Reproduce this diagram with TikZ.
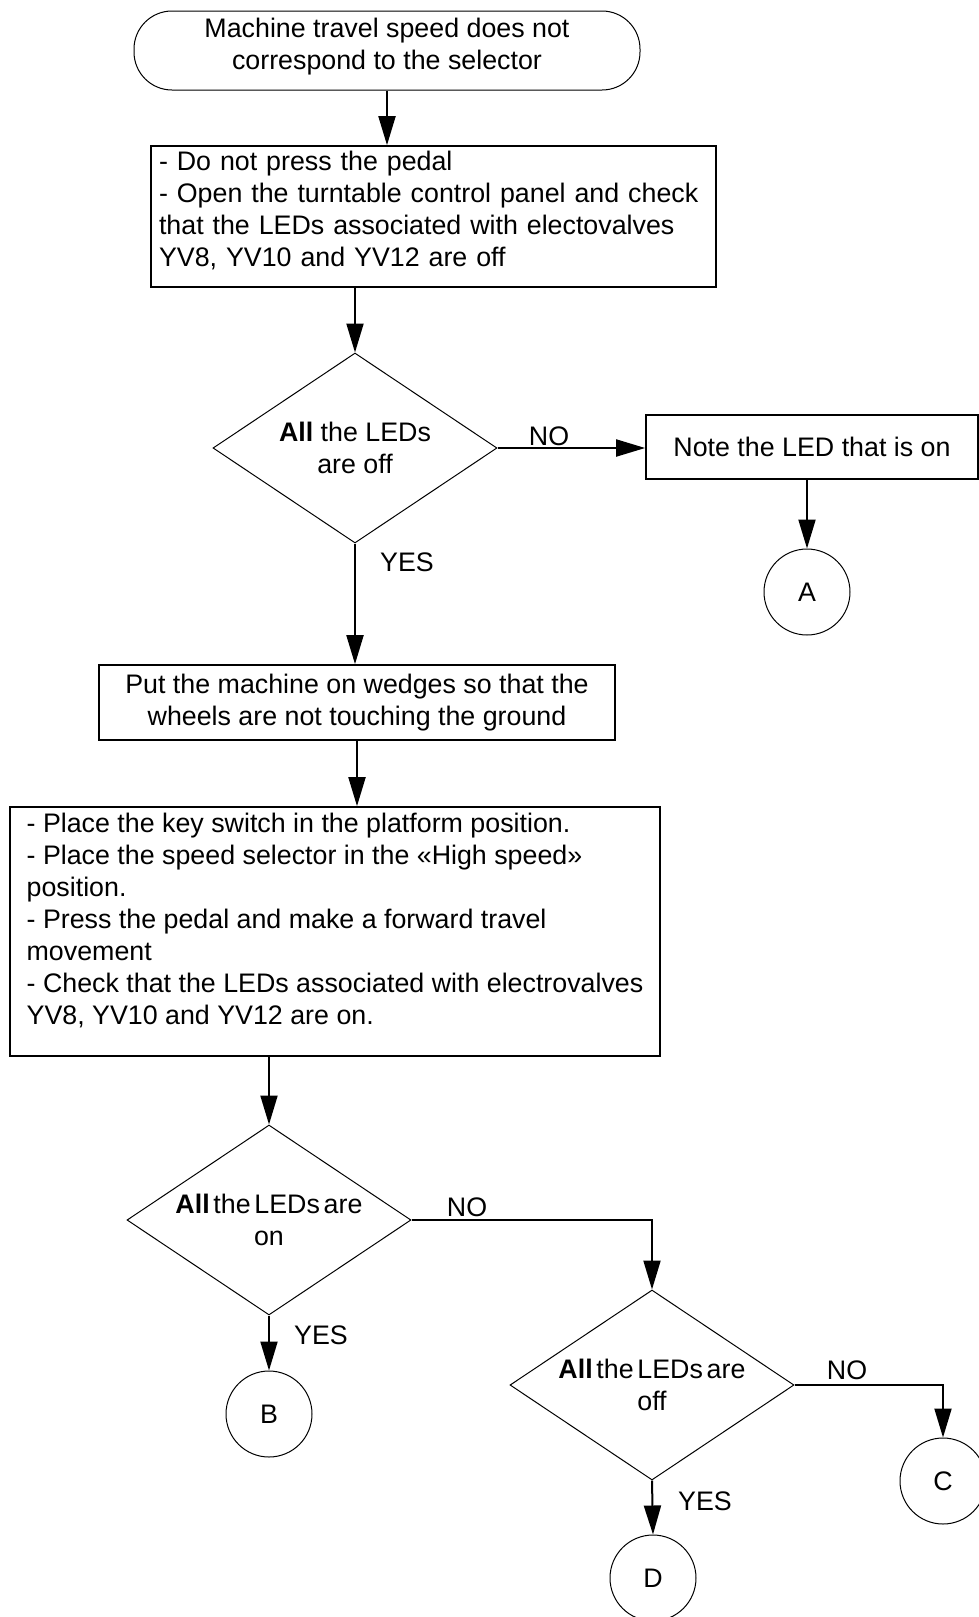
\documentclass[tikz,border=0pt]{standalone}
\usepackage{fontspec}
\setmainfont{Liberation Sans}
\usetikzlibrary{arrows.meta,shapes.geometric}

\begin{document}
\begin{tikzpicture}[
    x=0.5pt,y=-0.5pt,
    font=\fontsize{13.4}{16}\selectfont,
    terminal/.style={draw,line width=0.5pt,rounded corners=19pt,align=center,
        minimum width=253pt,minimum height=39.5pt,inner sep=0pt},
    box/.style={draw,line width=0.85pt,inner sep=0pt},
    decision/.style={diamond,draw,line width=0.5pt,inner sep=0pt,aspect=1.5,
        minimum width=142pt,minimum height=95pt,align=center},
    tight/.style={execute at begin node={\spaceskip=0.14em\relax}},
    connector/.style={circle,draw,line width=0.5pt,minimum size=43pt,inner sep=0pt},
    answer/.style={inner sep=0pt},
    arrow/.style={-{Triangle[length=14.5pt,width=8.5pt]},line width=1pt}
]
\useasboundingbox (0,0) rectangle (979,1617);

% start and first check
\node[terminal,text depth=6.3pt] (start) at (387,50.5)
    {Machine travel speed does not\\correspond to the selector};
\node[box,align=left,inner xsep=4pt,text width=274.5pt,text depth=55.8pt,
    minimum height=70.5pt] (nopedal) at (433.5,216.5)
    {- Do not press the pedal\\- Open the turntable control panel and check\\that the LEDs associated with electovalves\\YV8, YV10 and YV12 are off};
\node[decision] (alloff) at (355,448) {\textbf{All} the LEDs\\are off};
\node[box,minimum width=166pt,minimum height=32pt] (noteled) at (812,447)
    {Note the LED that is on};
\node[connector] (conA) at (807,592) {A};

% wedges and travel test
\node[box,align=center,minimum width=258pt,minimum height=37.5pt] (wedges) at (357,702.5)
    {Put the machine on wedges so that the\\wheels are not touching the ground};
\node[box,align=left,text depth=12.8pt,minimum width=325pt,minimum height=124.5pt]
    (travel) at (335,931.5)
    {- Place the key switch in the platform position.\\- Place the speed selector in the «High speed»\\position.\\- Press the pedal and make a forward travel\\movement\\- Check that the LEDs associated with electrovalves\\YV8, YV10 and YV12 are on.};
\node[decision,tight] (allon) at (269,1220) {\textbf{All} the LEDs are\\on};
\node[connector] (conB) at (269,1414) {B};
\node[decision,tight] (alloff2) at (652,1385) {\textbf{All} the LEDs are\\off};
\node[connector] (conC) at (943,1481) {C};
\node[connector] (conD) at (653,1578) {D};

% answers
\node[answer] (no1) at (549,436) {NO};
\node[answer] (yes1) at (407,562) {YES};
\node[answer] (no2) at (467,1207) {NO};
\node[answer] (yes2) at (321,1335) {YES};
\node[answer] (no3) at (847,1370) {NO};
\node[answer] (yes3) at (705,1501) {YES};

\draw[arrow] (start.south) -- (start.south |- nopedal.north);
\draw[arrow] (alloff.north |- nopedal.south) -- (alloff.north);
\draw[arrow] (alloff.east) -- (alloff.east -| noteled.west);
\draw[arrow] (conA.north |- noteled.south) -- (conA.north);
\draw[arrow] (alloff.south) -- (alloff.south |- wedges.north);
\draw[arrow] (wedges.south) -- (wedges.south |- travel.north);
\draw[arrow] (allon.north |- travel.south) -- (allon.north);
\draw[arrow] (allon.south) -- (conB.north);
\draw[arrow] (allon.east) -| (alloff2.north);
\draw[arrow] (alloff2.east) -| (conC.north);
\draw[arrow] (alloff2.south) -- (conD.north);
\end{tikzpicture}
\end{document}
